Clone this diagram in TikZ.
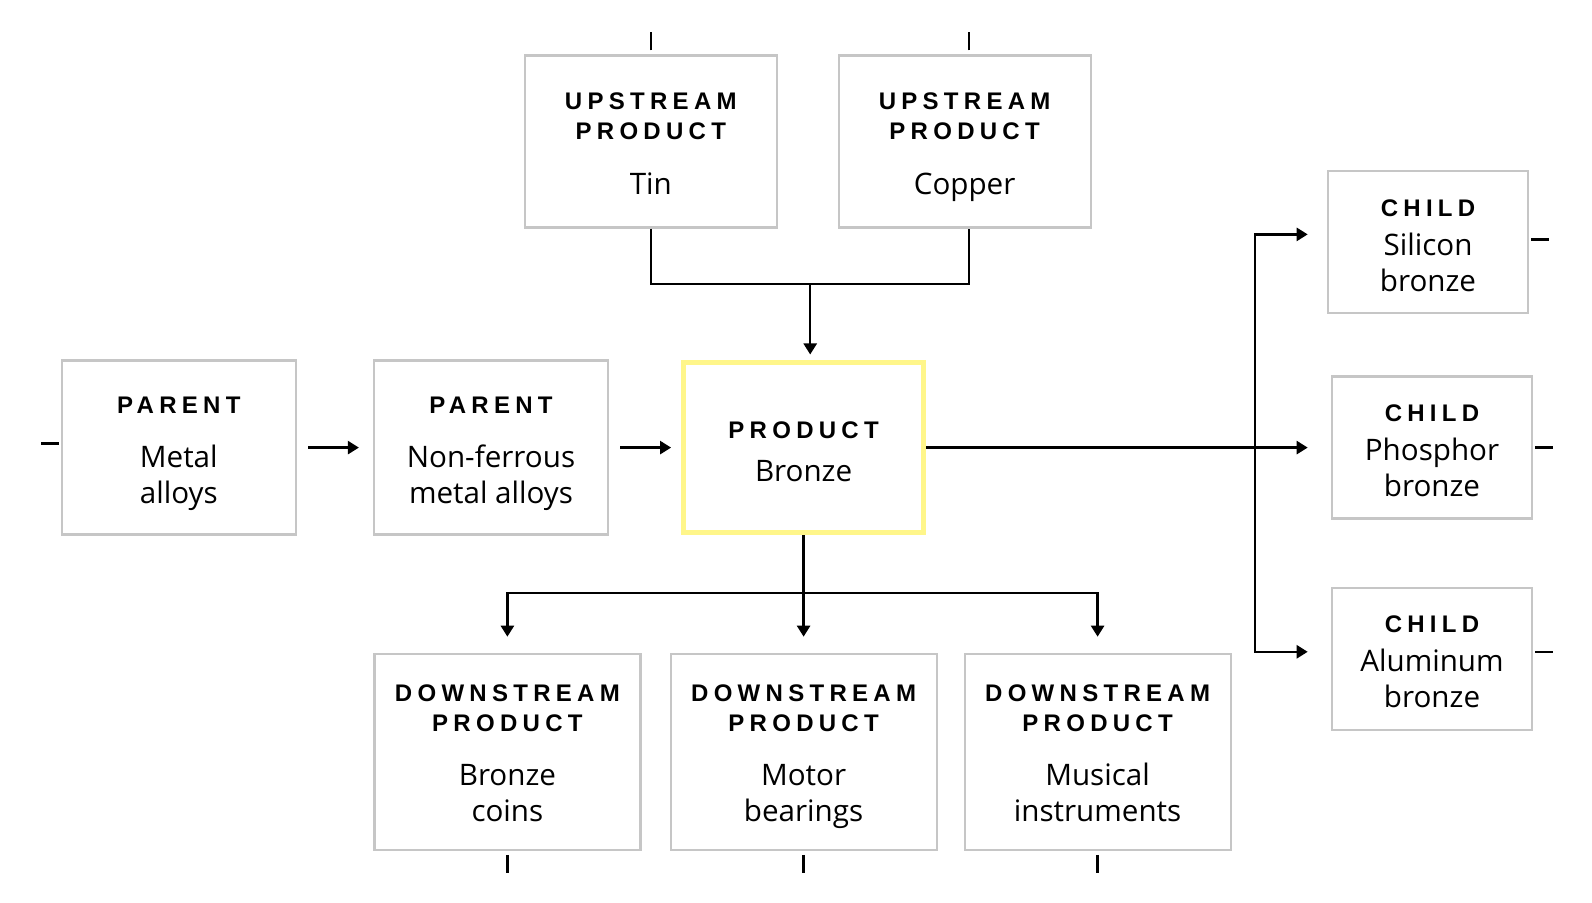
\documentclass[tikz,border=0pt]{standalone}
\usepackage{fontspec}
\setmainfont{Open Sans}
\newfontfamily\headfont[LetterSpace=22]{Liberation Sans Bold}
\usetikzlibrary{positioning,arrows.meta}
\definecolor{boxGray}{HTML}{C6C6C6}
\definecolor{hiYellow}{HTML}{FFF68A}
\newcommand{\hd}[2][0pt]{{\rule{0pt}{#1}\headfont\fontsize{12pt}{15pt}\selectfont #2}}
\tikzstyle{baseBox} = [draw=boxGray, line width=1.1pt, rectangle, align=center, inner sep=0pt,
	font=\fontsize{14.8pt}{18pt}\selectfont]
\tikzstyle{upBox} = [baseBox, minimum width=126pt, minimum height=86pt]
\tikzstyle{parentBox} = [baseBox, minimum width=117pt, minimum height=87pt]
\tikzstyle{productBox} = [baseBox, draw=hiYellow, line width=2.5pt, minimum width=120pt, minimum height=85pt]
\tikzstyle{childBox} = [baseBox, minimum width=100pt, minimum height=71pt]
\tikzstyle{downBox} = [baseBox, minimum width=133pt, minimum height=98pt]
\tikzstyle{flowLine} = [line width=1.25pt]
\tikzstyle{flowArrow} = [line width=1.25pt, -{Triangle[length=5.5pt,width=6.5pt]}]

\begin{document}
\begin{tikzpicture}
		\useasboundingbox (0,0) rectangle (796pt,-451.5pt);
		% nodes
		\node[productBox] (bronze) at (401.8pt,-223.8pt) {\hd[12.6pt]{PRODUCT}\\[3.5pt]Bronze};		% gesuchtes Produkt
		\node[parentBox, node distance=156.3pt, left of=bronze] (nonFerrous) {\hd[10.6pt]{PARENT}\\[9pt]Non-ferrous\\\smash{metal alloys}};
		\node[parentBox, node distance=156.1pt, left of=nonFerrous] (metal) {\hd[10.6pt]{PARENT}\\[9pt]Metal\\\smash{alloys}};
		\node[upBox, node distance=153pt, above of=bronze, xshift=-76.4pt] (tin) {\hd[10.1pt]{UPSTREAM}\\[-3pt]\hd{PRODUCT}\\[9.5pt]Tin};
		\node[upBox, node distance=156.9pt, right of=tin] (copper) {\hd[10.1pt]{UPSTREAM}\\[-3pt]\hd{PRODUCT}\\[9.5pt]\smash{Copper}};
		\node[childBox, node distance=314.2pt, right of=bronze] (phosphor) {\hd[11.6pt]{CHILD}\\[1.5pt]Phosphor\\bronze};
		\node[childBox, node distance=102.6pt, above of=phosphor, xshift=-2pt] (silicon) {\hd[11.6pt]{CHILD}\\[1.5pt]Silicon\\bronze};
		\node[childBox, node distance=105.6pt, below of=phosphor] (aluminum) {\hd[11.6pt]{CHILD}\\[1.5pt]Aluminum\\bronze};
		\node[downBox, node distance=152.1pt, below of=bronze] (motor) {\hd[9.6pt]{DOWNSTREAM}\\[-3pt]\hd{PRODUCT}\\[9pt]Motor\\\smash{bearings}};
		\node[downBox, node distance=148.1pt, left of=motor] (coins) {\hd[9.6pt]{DOWNSTREAM}\\[-3pt]\hd{PRODUCT}\\[9pt]Bronze\\coins};
		\node[downBox, node distance=147pt, right of=motor] (musical) {\hd[9.6pt]{DOWNSTREAM}\\[-3pt]\hd{PRODUCT}\\[9pt]Musical\\instruments};
		\coordinate (upJoin) at (405.1pt,-142.1pt);						% Verzweigung oben
		\coordinate (downJoin) at ([yshift=-29pt]bronze.south);			% Verzweigung unten
		\coordinate (childTip) at ([xshift=-11.6pt]phosphor.west);
		\coordinate (childBus) at ([xshift=-26.4pt]childTip);

		% arrows
		\draw[flowLine] (tin.south) |- (upJoin) -| ([xshift=2.3pt]copper.south);
		\draw[flowArrow, shorten >=2.8pt] (upJoin) -- (upJoin |- bronze.north);
		\draw[flowArrow, shorten <=5.6pt, shorten >=7pt] (metal) -- (nonFerrous);
		\draw[flowArrow, shorten <=5.6pt, shorten >=5pt] (nonFerrous) -- (bronze);
		\draw[flowArrow] (bronze.east) -- (childTip);
		\draw[flowArrow] (childBus) |- ([yshift=4pt]childTip |- silicon.west);
		\draw[flowArrow] (childBus) |- ([yshift=3.5pt]childTip |- aluminum.west);
		\draw[flowLine] (bronze.south) -- (downJoin);
		\draw[flowArrow, shorten >=8pt] (downJoin) -| (coins.north);
		\draw[flowArrow, shorten >=8pt] (downJoin) -- (motor.north);
		\draw[flowArrow, shorten >=8pt] (downJoin) -| (musical.north);

		% open ends
		\draw[flowLine] ([yshift=2pt]tin.north) -- ++(0,9pt);
		\draw[flowLine] ([xshift=2.3pt,yshift=2pt]copper.north) -- ++(0,9pt);
		\draw[flowLine] ([xshift=-1pt,yshift=2pt]metal.west) -- ++(-9pt,0);
		\draw[flowLine] ([xshift=1pt,yshift=1.5pt]silicon.east) -- ++(9pt,0);
		\draw[flowLine] ([xshift=1pt]phosphor.east) -- ++(9pt,0);
		\draw[flowLine] ([xshift=1pt,yshift=3.5pt]aluminum.east) -- ++(9pt,0);
		\draw[flowLine] ([yshift=-2pt]coins.south) -- ++(0,-9pt);
		\draw[flowLine] ([yshift=-2pt]motor.south) -- ++(0,-9pt);
		\draw[flowLine] ([yshift=-2pt]musical.south) -- ++(0,-9pt);
\end{tikzpicture}
\end{document}
